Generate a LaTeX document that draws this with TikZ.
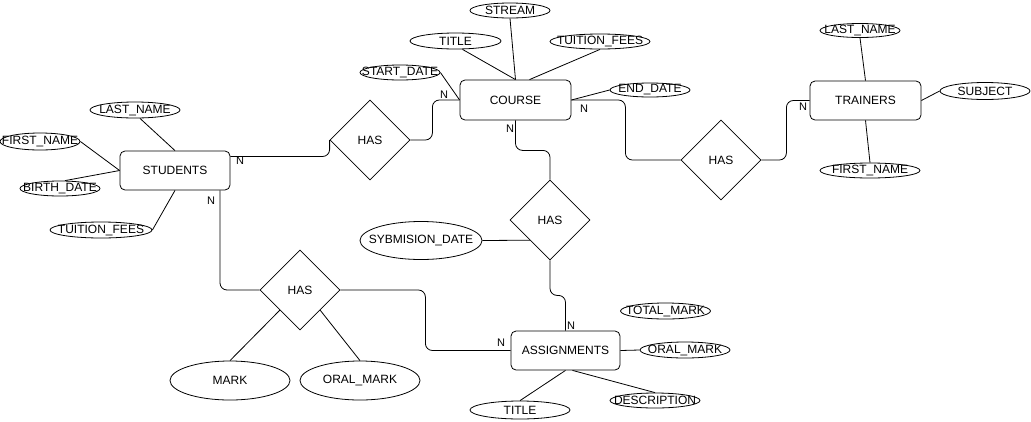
\documentclass[tikz,border=0pt]{standalone}
\usepackage{fontspec}
\setmainfont{Liberation Sans}
\usetikzlibrary{shapes.geometric}
\begin{document}
\begin{tikzpicture}[x=1pt,y=-1pt,
  every node/.style={font=\fontsize{12}{14}\selectfont, inner sep=0pt},
  entity/.style={draw, rounded corners=5pt, minimum width=110pt, minimum height=39pt, line width=0.8pt},
  attr/.style={draw, ellipse, line width=0.8pt, label={center:#1}},
  rel/.style={draw, diamond, minimum width=80pt, minimum height=80pt, line width=0.8pt},
  link/.style={draw, line width=0.8pt},
  conn/.style={draw, line width=0.8pt, rounded corners=7pt},
  card/.style={font=\fontsize{11}{13}\selectfont}]
\useasboundingbox (0,0) rectangle (1031,421);

% entities
\node[entity] (stud) at (175,170.5) {STUDENTS};
\node[entity, minimum width=111pt, minimum height=40pt] (course) at (515.5,100) {COURSE};
\node[entity, minimum width=111pt] (train) at (865.5,100.5) {TRAINERS};
\node[entity, minimum width=109pt] (assign) at (565.5,350.5) {ASSIGNMENTS};

% relationships
\node[rel] (has1) at (370,140) {HAS};
\node[rel] (has2) at (721,160) {HAS};
\node[rel] (has3) at (550,220) {HAS};
\node[rel] (has4) at (300,290) {HAS};

% student attributes
\node[attr={LAST\_NAME}, minimum width=90pt, minimum height=16pt] (sln) at (135,110) {};
\node[attr={FIRST\_NAME}, minimum width=80pt, minimum height=17pt] (sfn) at (40,141.5) {};
\node[attr={BIRTH\_DATE}, minimum width=80pt, minimum height=15pt] (sbd) at (60,188.5) {};
\node[attr={TUITION\_FEES}, minimum width=102pt, minimum height=16pt] (stf) at (101,230) {};

% course attributes
\node[attr={STREAM}, minimum width=80pt, minimum height=15pt] (stream) at (510,10.5) {};
\node[attr={TITLE}, minimum width=91pt, minimum height=16pt] (ctitle) at (455.5,41) {};
\node[attr={TUITION\_FEES}, minimum width=100pt, minimum height=15pt] (ctf) at (600,41.5) {};
\node[attr={START\_DATE}, minimum width=80pt, minimum height=15pt] (csd) at (400,72.5) {};
\node[attr={END\_DATE}, minimum width=80pt, minimum height=14pt] (ced) at (650,90) {};

% trainer attributes
\node[attr={LAST\_NAME}, minimum width=80pt, minimum height=14pt] (tln) at (860,30.5) {};
\node[attr={SUBJECT}, minimum width=90pt, minimum height=17pt] (subj) at (985,91) {};
\node[attr={FIRST\_NAME}, minimum width=100pt, minimum height=15pt] (tfn) at (870,170.5) {};

% assignment / relationship attributes
\node[attr={SYBMISION\_DATE}, minimum width=122pt, minimum height=38pt] (sd) at (421,240.5) {};
\node[attr={TOTAL\_MARK}, minimum width=90pt, minimum height=16pt] (tm) at (665.5,311) {};
\node[attr={ORAL\_MARK}, minimum width=90pt, minimum height=16pt] (aom) at (685,350) {};
\node[attr={DESCRIPTION}, minimum width=90pt, minimum height=15pt] (desc) at (655,400.5) {};
\node[attr={TITLE}, minimum width=100pt, minimum height=18pt] (atitle) at (520,410) {};
\node[attr={MARK}, minimum width=120pt, minimum height=39pt] (mark) at (230,380.5) {};
\node[attr={ORAL\_MARK}, minimum width=120pt, minimum height=39pt] (om) at (360,380.5) {};

% attribute links
\draw[link] ([xshift=5pt]sln.south) -- (stud.north);
\draw[link] (sfn.east) -- (stud.west);
\draw[link] ([xshift=5pt]sbd.north) -- (stud.west);
\draw[link] (stf.east) -- (stud.south);
\draw[link] (stream.south) -- (course.north);
\draw[link] ([xshift=7pt]ctitle.south) -- (course.north);
\draw[link] (ctf.south) -- ([xshift=14pt]course.north);
\draw[link] (csd.east) -- (course.west);
\draw[link] (ced.west) -- (course.east);
\draw[link] (tln.south) -- (train.north);
\draw[link] (subj.west) -- (train.east);
\draw[link] (tfn.north) -- (train.south);
\draw[link] (sd.east) -- (has3.south west);
\draw[link] (aom.west) -- (assign.east);
\draw[link] (atitle.north) -- (assign.south);
\draw[link] ([xshift=7pt]assign.south) -- (desc.north);
\draw[link] (mark.north) -- (has4.south west);
\draw[link] (om.north) -- (has4.south east);

% relationship connectors
\draw[conn] ([yshift=14pt]stud.east) -- ([yshift=14pt]stud.east -| has1.west) -- (has1.west);
\draw[conn] (has1.east) -- ([xshift=22pt]has1.east) |- (course.west);
\draw[conn] (course.east) -- ([xshift=54pt]course.east) |- (has2.west);
\draw[conn] (has2.east) -- ([xshift=25pt]has2.east) |- (train.west);
\draw[conn] (course.south) -- ([yshift=-30pt]course.south) -| (has3.north);
\draw[conn] (has3.south) -- ([yshift=-35pt]has3.south) -| (assign.north);
\draw[conn] ([xshift=45pt]stud.south) |- (has4.west);
\draw[conn] (has4.east) -- ([xshift=85pt]has4.east) |- (assign.west);

% cardinalities
\node[card] (n1) at (240,161) {N};
\node[card] (n2) at (211,201) {N};
\node[card] (n3) at (444,95) {N};
\node[card] (n4) at (584,109) {N};
\node[card] (n5) at (510,129) {N};
\node[card] (n6) at (803,107) {N};
\node[card] (n7) at (571,326) {N};
\node[card] (n8) at (501,343) {N};
\end{tikzpicture}
\end{document}
